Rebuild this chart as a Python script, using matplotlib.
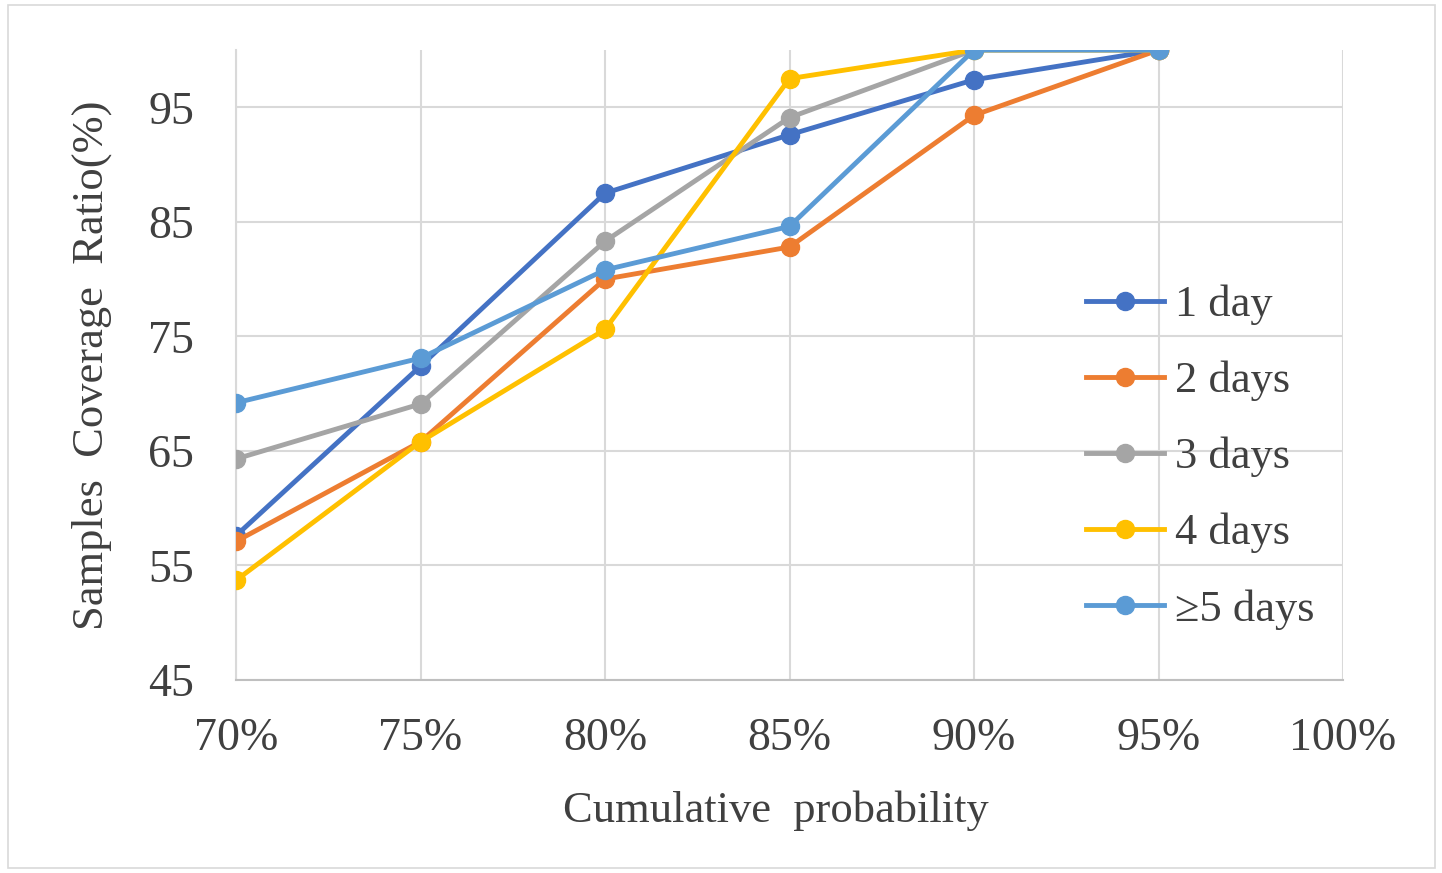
import matplotlib
matplotlib.use("Agg")
import matplotlib.pyplot as plt
from matplotlib.patches import Rectangle

# cumulative probability (%) on the x axis
probability = [70, 75, 80, 85, 90, 95]

one_day = [57.6, 72.4, 87.5, 92.6, 97.4, 100.0]
two_days = [57.1, 65.8, 80.0, 82.8, 94.3, 100.0]
three_days = [64.3, 69.1, 83.3, 94.1, 100.0, 100.0]
four_days = [53.7, 65.8, 75.6, 97.5, 100.0, 100.0]
five_plus_days = [69.2, 73.1, 80.8, 84.6, 100.0, 100.0]

series_labels = ["1 day", "2 days", "3 days", "4 days", "\u22655 days"]
series_colors = ["#4472C4", "#ED7D31", "#A5A5A5", "#FFC000", "#5B9BD5"]

x_ticks = [70, 75, 80, 85, 90, 95, 100]
x_tick_labels = ["70%", "75%", "80%", "85%", "90%", "95%", "100%"]
y_ticks = [45, 55, 65, 75, 85, 95]

plt.rcParams.update({
    "font.family": ["Liberation Serif", "DejaVu Serif"],
    "font.size": 33,
})

fig = plt.figure(figsize=(14.42, 8.73), dpi=100)
ax = fig.add_axes([236 / 1442, 193 / 873, 1107 / 1442, 630 / 873])

# light frame around the whole chart
fig.patches.append(Rectangle((8 / 1442, 5 / 873), 1427 / 1442, 863 / 873,
                             transform=fig.transFigure, fill=False,
                             edgecolor="#D9D9D9", linewidth=1.2))

all_series = [one_day, two_days, three_days, four_days, five_plus_days]
for values, label, color in zip(all_series, series_labels, series_colors):
    ax.plot(probability, values, color=color, linewidth=3.5, marker="o",
            markersize=13, label=label, zorder=3)

ax.set_xlim(70, 100)
ax.set_ylim(45, 100)
ax.set_xticks(x_ticks, x_tick_labels)
ax.set_yticks(y_ticks)
ax.tick_params(length=0, colors="#404040", labelsize=33)
ax.tick_params(axis="x", pad=27)
ax.tick_params(axis="y", pad=30)
ax.grid(True, color="#D9D9D9", linewidth=1.5, zorder=0)
ax.set_axisbelow(True)
for side in ["top", "right"]:
    ax.spines[side].set_visible(False)
ax.spines["left"].set_color("#D9D9D9")
ax.spines["bottom"].set_color("#BFBFBF")
ax.spines["left"].set_linewidth(1.5)
ax.spines["bottom"].set_linewidth(1.5)

ax.set_xlabel("Cumulative  probability", color="#404040", fontsize=32)
ax.xaxis.set_label_coords(0.488, -0.176)
ax.set_ylabel("Samples  Coverage  Ratio(%)", color="#404040", fontsize=32)
ax.yaxis.set_label_coords(-0.112, 0.5)

leg = ax.legend(loc="upper left", bbox_to_anchor=(1068 / 1442, (873 - 267) / 873),
                bbox_transform=fig.transFigure, frameon=False, fontsize=32,
                handlelength=1.75, handletextpad=0.25, labelspacing=0.8,
                borderaxespad=0)
for text in leg.get_texts():
    text.set_color("#404040")

fig.savefig("out.png", dpi=100)
